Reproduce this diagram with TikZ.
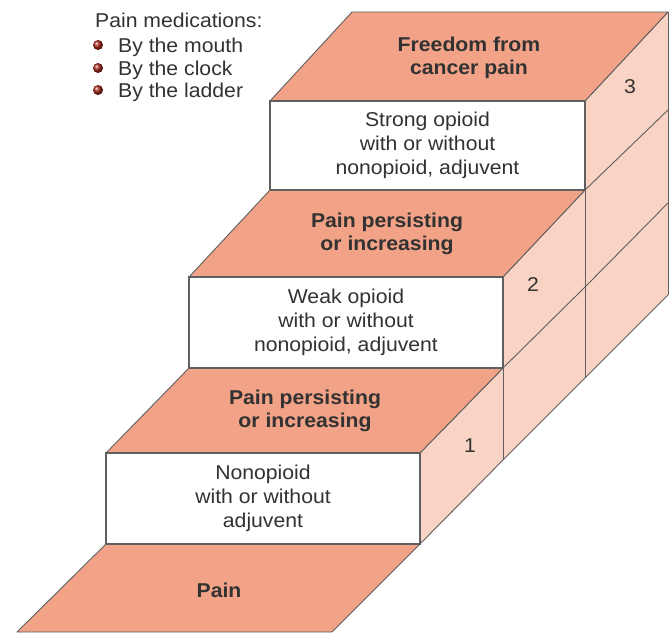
\documentclass[tikz,border=0pt]{standalone}
\usepackage{fontspec}
\setmainfont{Liberation Sans}[FakeStretch=1.06]
\usetikzlibrary{positioning}

\definecolor{slab}{RGB}{242,162,134}
\definecolor{sidepeach}{RGB}{249,212,196}
\definecolor{edgegray}{RGB}{95,95,95}
\definecolor{ink}{RGB}{50,50,50}
\definecolor{bulletred}{RGB}{165,35,25}

\tikzstyle{slabface} = [fill=slab, draw=edgegray, line width=0.9pt, line join=round]
\tikzstyle{sideface} = [fill=sidepeach]
\tikzstyle{sideline} = [draw=edgegray, line width=0.9pt]
\tikzstyle{frontbox} = [rectangle, fill=white, draw=edgegray, line width=1.6pt, text=ink, align=center, inner sep=0pt, font=\fontsize{20}{24}\selectfont]
\tikzstyle{slabtext} = [text=ink, align=center, font=\fontsize{20}{23}\selectfont\bfseries]
\tikzstyle{numtext} = [text=ink, font=\fontsize{20}{22}\selectfont]
\tikzstyle{listtext} = [text=ink, anchor=base west, inner sep=0pt, font=\fontsize{20}{23}\selectfont]
\tikzstyle{bullet} = [circle, inner sep=0pt, minimum size=10, shading=ball, ball color=bulletred]

\begin{document}
\begin{tikzpicture}[x=1pt, y=-1pt]
\useasboundingbox (0,0) rectangle (670,635);

% Pain medications
\node (medications) [listtext] at (95,27) {Pain medications:};
\node (mouth) [listtext] at (118,52) {By the mouth};
\node (clock) [listtext] at (118,75) {By the clock};
\node (ladder) [listtext] at (118,97) {By the ladder};
\node (b1) [bullet] at (98,45) {};
\node (b2) [bullet] at (98,68) {};
\node (b3) [bullet] at (98,90) {};

% Floor
\draw [slabface] (17,632) -- (332,632) -- (420,544) -- (106,544) -- cycle;
\node (pain) [slabtext] at (219,590) {Pain};

% Side of the steps
\fill [sideface] (420,544) -- (668,295) -- (668,12) -- (585,101) -- (585,190)
  -- (503,277) -- (503,368) -- (420,453) -- cycle;
\draw [sideline] (420,544) -- (503,460) -- (585,378) -- (668,295);
\draw [sideline] (420,453) -- (503,368) -- (585,287) -- (668,203);
\draw [sideline] (503,277) -- (585,190) -- (668,110);
\draw [sideline] (585,101) -- (668,12);
\draw [sideline] (503,368) -- (503,460);
\draw [sideline] (585,190) -- (585,378);
\draw [sideline] (668,12) -- (668,295);

% Step 1
\draw [slabface] (106,453) -- (420,453) -- (503,368) -- (189,368) -- cycle;
\node (nonopioid) [frontbox, minimum width=314, minimum height=91] at (263,498.5)
  {Nonopioid\\with or without\\adjuvent};
\node (persist1) [slabtext] at (305,411) {Pain persisting\\or increasing};
\node (one) [numtext] at (470,446) {1};

% Step 2
\draw [slabface] (189,277) -- (503,277) -- (585,190) -- (270,190) -- cycle;
\node (weak) [frontbox, minimum width=314, minimum height=91] at (346,322.5)
  {Weak opioid\\with or without\\nonopioid, adjuvent};
\node (persist2) [slabtext] at (387,234) {Pain persisting\\or increasing};
\node (two) [numtext] at (533,285) {2};

% Step 3
\draw [slabface] (270,101) -- (585,101) -- (668,12) -- (352,12) -- cycle;
\node (strong) [frontbox, minimum width=315, minimum height=89] at (427.5,145.5)
  {Strong opioid\\with or without\\nonopioid, adjuvent};
\node (freedom) [slabtext] at (469,58) {Freedom from\\cancer pain};
\node (three) [numtext] at (630,87) {3};

\end{tikzpicture}
\end{document}
